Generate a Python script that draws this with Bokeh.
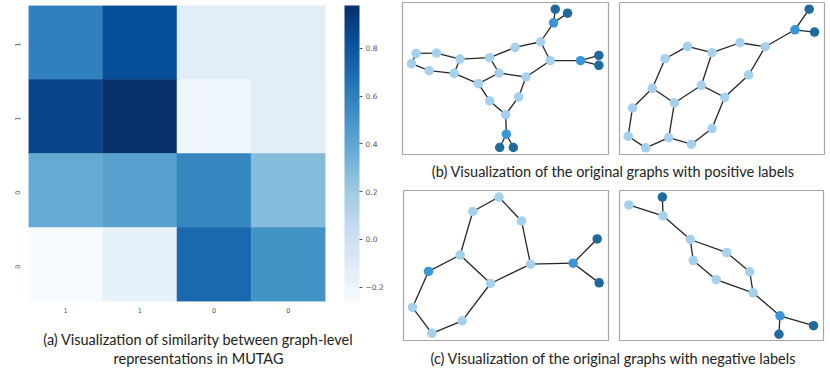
from bokeh.plotting import figure
from bokeh.models import Range1d, LinearColorMapper, ColorBar, FixedTicker, ColumnDataSource
from bokeh.layouts import row, column
from bokeh.palettes import Blues256
from bokeh.core.properties import value
from bokeh.embed import file_html
from bokeh.resources import INLINE

# ---------- data ----------
row_labels = ["1", "1", "0", "0"]
col_labels = ["1", "1", "0", "0"]
similarity = [
    [0.60, 0.83, -0.12, -0.12],
    [0.88, 0.98, -0.21, -0.13],
    [0.38, 0.43, 0.57, 0.28],
    [-0.26, -0.16, 0.71, 0.51],
]
sim_low, sim_high = -0.26, 0.98
cbar_ticks = [-0.2, 0.0, 0.2, 0.4, 0.6, 0.8]

caption_a = ["(a) Visualization of similarity between graph-level", "representations in MUTAG"]
caption_b = "(b) Visualization of the original graphs with positive labels"
caption_c = "(c) Visualization of the original graphs with negative labels"

b1_x = [60,121,46,99,174,192,281,309,247,357,434,463,390,368,281,329,331,311,352,473,478,515,554,609,609]
b1_y = [158,157,189,210,218,175,171,217,249,140,123,180,229,289,301,342,401,441,441,66,25,37,180,164,194]
b1_kind = "LLLLLLLLLLLLLLLLMDDMDDMDD"
b1_edges = [(0,1),(1,5),(0,2),(2,3),(3,4),(4,5),(5,6),(4,8),(6,7),(7,8),(6,9),(9,10),(10,11),(11,12),(7,12),
            (12,13),(13,15),(8,14),(14,15),(15,16),(16,17),(16,18),(10,19),(19,20),(19,21),(11,22),(22,23),(22,24)]

b2_x = [590,606,547,458,382,298,224,157,119,185,266,336,408,59,46,99,168,236,298]
b2_y = [25,94,87,138,126,156,137,174,263,307,254,290,223,322,407,442,411,431,384]
b2_kind = "DDMLLLLLLLLLLLLLLLL"
b2_edges = [(0,2),(1,2),(2,3),(3,4),(4,5),(5,6),(6,7),(7,8),(8,9),(9,10),(10,5),(10,11),(11,12),(12,3),
            (8,13),(13,14),(14,15),(15,16),(16,9),(16,17),(17,18),(18,11)]

c1_x = [311,233,379,195,100,286,406,534,606,612,52,110,201]
c1_y = [37,81,110,214,264,301,242,239,165,299,374,453,415]
c1_kind = "LLLLMLLMDDLLL"
c1_edges = [(0,1),(0,2),(1,3),(2,6),(3,4),(3,5),(5,6),(6,7),(7,8),(7,9),(4,10),(10,11),(11,12),(12,5)]

c2_x = [48,149,151,233,343,242,412,311,422,503,604,500]
c2_y = [56,32,89,161,201,225,259,283,323,393,423,449]
c2_kind = "LDLLLLLLLMDD"
c2_edges = [(0,2),(1,2),(2,3),(3,4),(3,5),(4,6),(5,7),(6,8),(7,8),(8,9),(9,10),(9,11)]

NODE = {"L": "#a5d1ee", "M": "#3a96d6", "D": "#1f6b9e"}
FONT = "Lato"
CAP_SIZE = "14.5px"

# ---------- heatmap ----------
blues = list(reversed(Blues256))
xs, ys, vs = [], [], []
for r, vals in enumerate(similarity):
    for c, v in enumerate(vals):
        xs.append(c + 0.5); ys.append(r + 0.5); vs.append(v)
mapper = LinearColorMapper(palette=blues, low=sim_low, high=sim_high)

hm = figure(output_backend="svg", toolbar_location=None, tools="",
            frame_width=297, frame_height=296, width=400, height=320,
            min_border_left=28, min_border_top=5, min_border_bottom=19, min_border_right=75,
            x_range=Range1d(0, 4), y_range=Range1d(4, 0), outline_line_color=None)
hm.grid.visible = False
hm.rect("x", "y", 1, 1, source=ColumnDataSource(dict(x=xs, y=ys, v=vs)),
        fill_color={"field": "v", "transform": mapper},
        line_color={"field": "v", "transform": mapper}, line_width=0.5)
for ax, labels in ((hm.xaxis[0], col_labels), (hm.yaxis[0], row_labels)):
    ax.ticker = FixedTicker(ticks=[0.5, 1.5, 2.5, 3.5])
    ax.major_label_overrides = {i + 0.5: s for i, s in enumerate(labels)}
    ax.axis_line_color = None
    ax.major_tick_line_color = None
    ax.minor_tick_line_color = None
    ax.major_label_text_font = "DejaVu Sans"
    ax.major_label_text_font_size = "6.5px"
    ax.major_label_text_color = "#555555"
    ax.major_label_standoff = 0
hm.yaxis[0].major_label_standoff = 5
hm.yaxis[0].major_label_orientation = 1.5708

cb = ColorBar(color_mapper=mapper, width=15, height=296, padding=0, margin=0,
              ticker=FixedTicker(ticks=cbar_ticks),
              major_label_overrides={t: f"{t:.1f}".replace("-", "\u2212") for t in cbar_ticks},
              major_label_text_font="DejaVu Sans", major_label_text_font_size="7.5px",
              major_label_text_color="#555555", major_tick_in=0, major_tick_out=3,
              major_tick_line_color="#555555", minor_tick_line_color=None,
              label_standoff=3, bar_line_color=None, location=(19, 0))
hm.add_layout(cb, "right")


def caption(lines, ypos, w, h, xc):
    p = figure(output_backend="svg", toolbar_location=None, tools="", width=w, height=h,
               min_border=0, x_range=Range1d(0, w), y_range=Range1d(h, 0), outline_line_color=None)
    p.axis.visible = False
    p.grid.visible = False
    p.text(x=[xc] * len(lines), y=ypos, text=lines, text_font=value(FONT), text_font_size=CAP_SIZE,
           text_color="#222222", text_align="center", text_baseline="middle")
    return p


def graph(nx, ny, kinds, edges, xr, yr, w, h, borders):
    t, r, b, l = borders
    p = figure(output_backend="svg", toolbar_location=None, tools="", width=w, height=h,
               min_border_top=t, min_border_right=r, min_border_bottom=b, min_border_left=l,
               x_range=Range1d(*xr), y_range=Range1d(yr[1], yr[0]),
               outline_line_color="#a6a6a6", outline_line_width=1.2)
    p.axis.visible = False
    p.grid.visible = False
    p.segment([nx[a] for a, _ in edges], [ny[a] for a, _ in edges],
              [nx[b] for _, b in edges], [ny[b] for _, b in edges],
              line_color="#262626", line_width=1.3)
    p.scatter(nx, ny, size=9.5, fill_color=[NODE[k] for k in kinds], line_color=None)
    return p


b1 = graph(b1_x, b1_y, b1_kind, b1_edges, (19, 638), (5, 462), 210, 156, (2, 2, 2, 2))
b2 = graph(b2_x, b2_y, b2_kind, b2_edges, (20, 636), (5, 462), 220, 156, (2, 6, 2, 9))
c1 = graph(c1_x, c1_y, c1_kind, c1_edges, (25, 640), (17, 475), 210, 164, (10, 2, 2, 3))
c2 = graph(c2_x, c2_y, c2_kind, c2_edges, (20, 634), (12, 468), 220, 164, (8, 7, 4, 9))

cap_a = caption(caption_a, [19, 38], 400, 48, 198)
cap_b = caption([caption_b], [15], 430, 24, 213)
cap_c = caption([caption_c], [14], 430, 24, 213)

left = column(row(hm, spacing=0), row(cap_a, spacing=0), spacing=0)
right = column(row(b1, b2, spacing=0), cap_b, row(c1, c2, spacing=0), cap_c, spacing=0)
page = row(left, right, spacing=0)

open("out.html", "w").write(file_html(page, INLINE))
